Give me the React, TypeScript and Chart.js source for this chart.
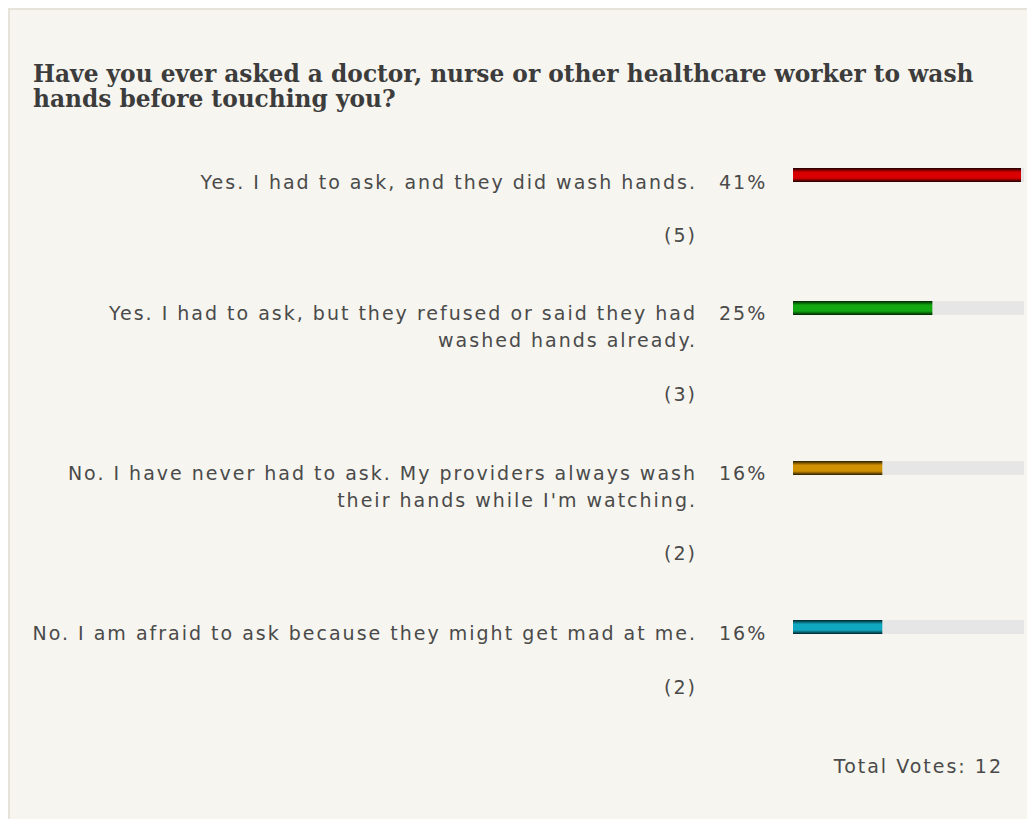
import React, { useEffect, useRef } from "react";
import { Chart, registerables } from "chart.js";

Chart.register(...registerables);

const title = "Have you ever asked a doctor, nurse or other healthcare worker to wash hands before touching you?";
const answers: string[][] = [
  ["Yes. I had to ask, and they did wash hands."],
  ["Yes. I had to ask, but they refused or said they had", "washed hands already."],
  ["No. I have never had to ask. My providers always wash", "their hands while I'm watching."],
  ["No. I am afraid to ask because they might get mad at me."],
];
const percents = [41, 25, 16, 16];
const votes = [5, 3, 2, 2];
const totalVotes = 12;
const barColors = [
  { edge: "#1c0000", mid: "#d80000" },
  { edge: "#002200", mid: "#12a812" },
  { edge: "#2a1e00", mid: "#d09000" },
  { edge: "#002228", mid: "#10a8c0" },
];

const rowTops = [169, 300, 460, 620];
const countTops = [222, 381, 540, 674];
const barTops = [168, 301, 461, 620];

const BODY_FONT = "'DejaVu Sans', Verdana, sans-serif";
const TEXT = "#4a4a4a";
const LS = 2;

const bodyText: React.CSSProperties = {
  position: "absolute",
  fontSize: 19,
  lineHeight: "27px",
  letterSpacing: LS,
  whiteSpace: "nowrap",
};

function PollBar({ index }: { index: number }) {
  const ref = useRef<HTMLCanvasElement | null>(null);
  useEffect(() => {
    if (!ref.current) return;
    const maxVal = Math.max(...percents);
    const col = barColors[index];
    const trackPlugin = {
      id: "track",
      beforeDatasetsDraw(chart: any) {
        const { ctx, chartArea } = chart;
        ctx.save();
        ctx.fillStyle = "#e6e6e6";
        ctx.fillRect(0, chartArea.top, chart.width, chartArea.bottom - chartArea.top);
        ctx.restore();
      },
    };
    const chart = new Chart(ref.current, {
      type: "bar",
      data: {
        labels: [answers[index].join(" ")],
        datasets: [
          {
            data: [percents[index]],
            barPercentage: 1,
            categoryPercentage: 1,
            borderWidth: 0,
            backgroundColor: (c: any) => {
              const area = c.chart.chartArea;
              if (!area) return col.mid;
              const g = c.chart.ctx.createLinearGradient(0, area.top, 0, area.bottom);
              g.addColorStop(0, col.edge);
              g.addColorStop(0.3, col.mid);
              g.addColorStop(0.5, col.mid);
              g.addColorStop(0.72, col.mid);
              g.addColorStop(1, col.edge);
              return g;
            },
          },
        ],
      },
      options: {
        indexAxis: "y",
        responsive: false,
        animation: false,
        layout: { padding: { left: 0, right: 3, top: 0, bottom: 0 } },
        scales: {
          x: { display: false, min: 0, max: maxVal },
          y: { display: false },
        },
        plugins: { legend: { display: false }, tooltip: { enabled: false } },
      },
      plugins: [trackPlugin],
    });
    return () => chart.destroy();
  }, [index]);
  return (
    <canvas
      ref={ref}
      width={231}
      height={14}
      style={{ position: "absolute", left: 793, top: barTops[index], width: 231, height: 14 }}
    />
  );
}

export default function App() {
  return (
    <div
      style={{
        position: "absolute",
        left: 8,
        top: 8,
        width: 1019,
        height: 811,
        background: "#f6f5ef",
        borderLeft: "2px solid #e6e3db",
        borderTop: "2px solid #e6e3db",
        boxSizing: "border-box",
        overflow: "hidden",
        fontFamily: BODY_FONT,
        color: TEXT,
      }}
    >
      <div style={{ position: "absolute", left: -10, top: -10, width: 1029, height: 821 }}>
        <div
          style={{
            position: "absolute",
            left: 33,
            top: 61,
            width: 990,
            fontFamily: "'DejaVu Serif', Georgia, serif",
            fontWeight: "bold",
            fontSize: 23.3,
            lineHeight: "25px",
            color: "#3c3c3c",
          }}
        >
          {title}
        </div>
        {answers.map((lines, i) => (
          <React.Fragment key={i}>
            <div style={{ ...bodyText, left: 0, top: rowTops[i], width: 695 + LS, textAlign: "right" }}>
              {lines.map((l, j) => (
                <div key={j}>{l}</div>
              ))}
            </div>
            <div style={{ ...bodyText, left: 719, top: rowTops[i] }}>{percents[i]}%</div>
            <div style={{ ...bodyText, left: 0, top: countTops[i], width: 695 + LS, textAlign: "right" }}>
              ({votes[i]})
            </div>
          </React.Fragment>
        ))}
        <div style={{ ...bodyText, left: 0, top: 753, width: 1001 + LS, textAlign: "right" }}>
          Total Votes: {totalVotes}
        </div>
        {answers.map((_, i) => (
          <PollBar key={i} index={i} />
        ))}
      </div>
    </div>
  );
}
